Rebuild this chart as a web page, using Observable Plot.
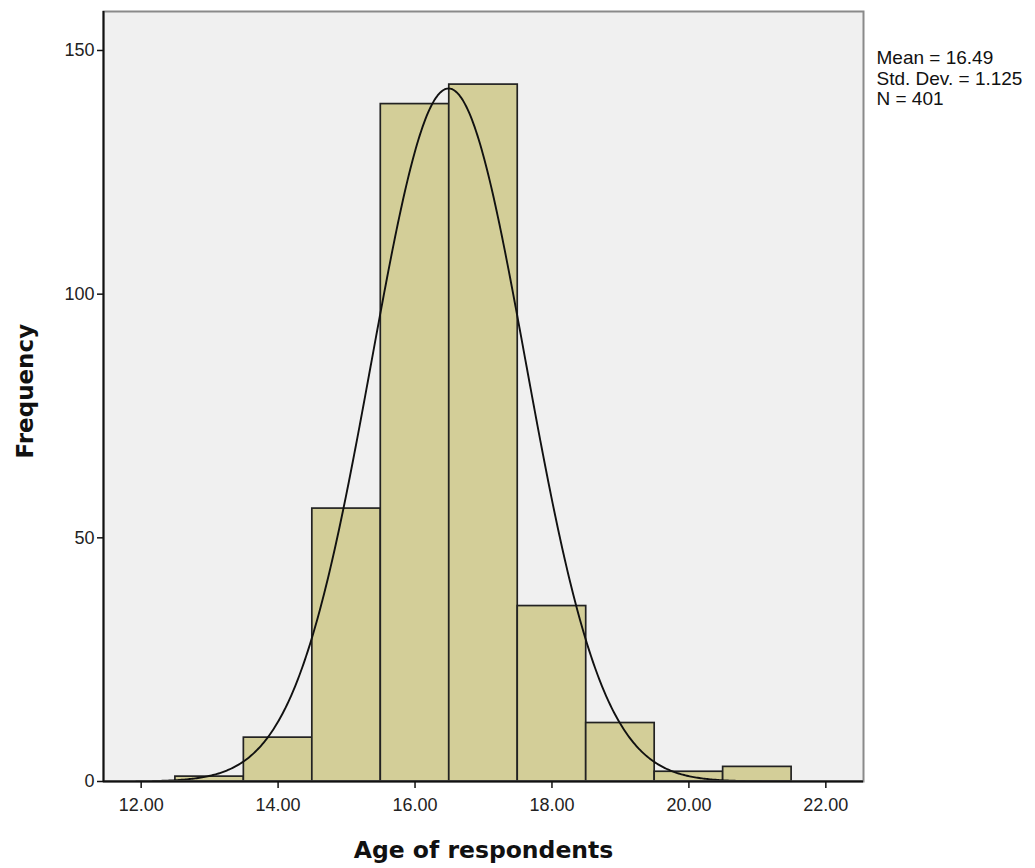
<!DOCTYPE html>
<html>
<head>
<meta charset="utf-8">
<script src="https://cdn.jsdelivr.net/npm/d3@7"></script>
<script src="https://cdn.jsdelivr.net/npm/@observablehq/plot@0.6"></script>
<style>
  body { margin: 0; background: #fff; }
  #chart svg { display: block; }
</style>
</head>
<body>
<div id="chart"></div>
<script>
// Histogram bins (age of respondents, bin width 1)
const binLower = [12.5, 13.5, 14.5, 15.5, 16.5, 17.5, 18.5, 19.5, 20.5];
const binUpper = [13.5, 14.5, 15.5, 16.5, 17.5, 18.5, 19.5, 20.5, 21.5];
const counts   = [1, 9, 56, 139, 143, 36, 12, 2, 3];

// Summary statistics shown in the legend
const MEAN = 16.49;
const SD = 1.125;
const N = 401;
const statsLines = ["Mean = 16.49", "Std. Dev. = 1.125", "N = 401"];

// Axis ticks
const xTicks = [12, 14, 16, 18, 20, 22];
const yTicks = [0, 50, 100, 150];

const xDomain = [11.45, 22.55];
const yDomain = [0, 158];

const bars = binLower.map((lo, i) => ({x1: lo, x2: binUpper[i], count: counts[i]}));

// Normal curve scaled to the histogram (N * bin width * density)
const binWidth = 1;
const curvePts = d3.range(xDomain[0], xDomain[1] + 0.001, 0.02).map(x => ({
  x,
  y: N * binWidth * Math.exp(-0.5 * ((x - MEAN) / SD) ** 2) / (SD * Math.sqrt(2 * Math.PI))
}));

const chart = Plot.plot({
  width: 1035,
  height: 868,
  marginLeft: 103,
  marginRight: 172,
  marginTop: 11,
  marginBottom: 87,
  style: {fontFamily: "'Liberation Sans', Arial, sans-serif", fontSize: "18px", background: "#fff", overflow: "visible"},
  x: {domain: xDomain},
  y: {domain: yDomain},
  marks: [
    Plot.frame({fill: "#f0f0f0"}),
    Plot.rectY(bars, {x1: "x1", x2: "x2", y1: 0, y2: "count", fill: "#d3ce98", stroke: "#222", strokeWidth: 1.7}),
    Plot.line(curvePts, {x: "x", y: "y", stroke: "#111", strokeWidth: 1.9, clip: true}),
    Plot.frame({stroke: "#8a8a8a", strokeWidth: 2}),
    Plot.ruleX([xDomain[0]], {stroke: "#111", strokeWidth: 2}),
    Plot.ruleY([0], {stroke: "#111", strokeWidth: 2}),
    Plot.axisX({ticks: xTicks, tickFormat: d3.format(".2f"), tickSize: 7, tickPadding: 10, label: null, fontSize: 18, stroke: "#111", strokeWidth: 1.5, fill: "#222"}),
    Plot.axisY({ticks: yTicks, tickSize: 6, tickPadding: 3, label: null, fontSize: 18, stroke: "#111", strokeWidth: 1.5, fill: "#222"}),
    Plot.text(["Age of respondents"], {frameAnchor: "bottom", dy: 76, fontFamily: "'DejaVu Sans', sans-serif", fontWeight: "bold", fontSize: 23.5, fill: "#111"}),
    Plot.text(["Frequency"], {frameAnchor: "left", dx: -78, dy: 62, rotate: -90, fontFamily: "'DejaVu Sans', sans-serif", fontWeight: "bold", fontSize: 23, fill: "#111"}),
    Plot.text([statsLines.join("\n")], {frameAnchor: "top-right", textAnchor: "start", lineAnchor: "top", dx: 13, dy: 38, fontSize: 19, lineHeight: 1.08, fill: "#111"})
  ]
});
document.getElementById("chart").append(chart);
</script>
</body>
</html>
